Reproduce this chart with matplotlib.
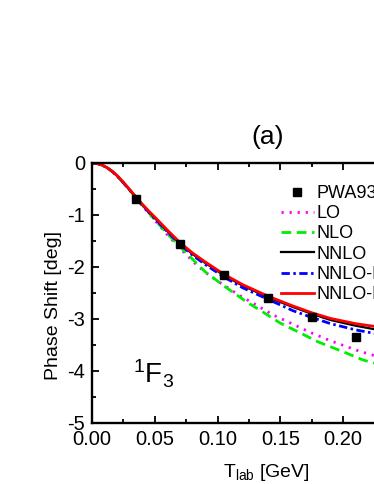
import numpy as np
import matplotlib
matplotlib.use("Agg")
import matplotlib.pyplot as plt

plt.rcParams['font.family'] = ['Liberation Sans', 'DejaVu Sans']
plt.rcParams['mathtext.fontset'] = 'custom'
plt.rcParams['mathtext.rm'] = 'Liberation Sans'
plt.rcParams['mathtext.it'] = 'Liberation Sans:italic'
plt.rcParams['axes.unicode_minus'] = False
plt.rcParams['lines.scale_dashes'] = False

# PWA93 points
pwa_x = [0.035, 0.070, 0.105, 0.140, 0.175, 0.210]
pwa_y = [-0.69, -1.55, -2.15, -2.59, -2.96, -3.34]

# curves
t_lo = [0.0, 0.004, 0.008, 0.012, 0.016, 0.02, 0.025, 0.03, 0.035, 0.04, 0.045, 0.05, 0.06, 0.07,
        0.082, 0.09, 0.10, 0.11, 0.119, 0.13, 0.144, 0.16, 0.174, 0.19, 0.213, 0.23]
lo = [0.0, -0.01, -0.04, -0.09, -0.16, -0.25, -0.38, -0.52, -0.67, -0.82, -0.96, -1.10, -1.38, -1.64,
      -1.93, -2.10, -2.27, -2.43, -2.57, -2.72, -2.92, -3.10, -3.26, -3.42, -3.62, -3.74]

t_nlo = [0.0, 0.004, 0.008, 0.012, 0.016, 0.02, 0.025, 0.03, 0.035, 0.04, 0.045, 0.05, 0.06, 0.07,
         0.078, 0.09, 0.106, 0.123, 0.135, 0.15, 0.166, 0.18, 0.20, 0.216, 0.23]
nlo = [0.0, -0.01, -0.04, -0.09, -0.16, -0.25, -0.38, -0.52, -0.67, -0.81, -0.95, -1.09, -1.36, -1.61,
       -1.80, -2.09, -2.38, -2.67, -2.85, -3.08, -3.27, -3.44, -3.63, -3.79, -3.88]

t_nn = [0.0, 0.004, 0.008, 0.012, 0.016, 0.02, 0.025, 0.03, 0.035, 0.04, 0.045, 0.05, 0.06, 0.07,
        0.08, 0.09, 0.105, 0.12, 0.14, 0.16, 0.175, 0.19, 0.21, 0.23]
nnlo = [0.0, -0.01, -0.04, -0.09, -0.16, -0.25, -0.38, -0.52, -0.66, -0.80, -0.93, -1.06, -1.31, -1.55,
        -1.75, -1.92, -2.16, -2.36, -2.58, -2.77, -2.90, -3.02, -3.13, -3.22]
nnlo_r = [0.0, -0.01, -0.04, -0.09, -0.16, -0.25, -0.38, -0.52, -0.67, -0.81, -0.94, -1.07, -1.32, -1.56,
          -1.77, -1.95, -2.19, -2.40, -2.62, -2.84, -2.97, -3.09, -3.21, -3.30]
nnlo_m = [0.0, -0.01, -0.04, -0.09, -0.16, -0.24, -0.37, -0.51, -0.65, -0.79, -0.92, -1.04, -1.29, -1.53,
          -1.73, -1.90, -2.14, -2.34, -2.56, -2.75, -2.88, -2.99, -3.09, -3.16]

fig = plt.figure(figsize=(3.74, 4.84), dpi=100)
ax = fig.add_axes([92 / 374, 61 / 484, 0.28 * 1256 / 374, 260 / 484])

ax.plot(pwa_x, pwa_y, 's', color='black', markersize=6, zorder=6, label='PWA93')
ax.plot(t_lo, lo, color='#ff00ff', lw=2.0, dashes=(1.6, 4.2), label='LO')
ax.plot(t_nlo, nlo, color='#00ee00', lw=2.0, dashes=(7, 4), label='NLO')
ax.plot(t_nn, nnlo, color='black', lw=1.6, label='NNLO')
ax.plot(t_nn, nnlo_r, color='#0000ff', lw=2.0, dashes=(6, 2.5, 1.8, 2.5), label='NNLO-RS')
ax.plot(t_nn, nnlo_m, color='#ff0000', lw=2.0, label='NNLO-MS')

ax.set_xlim(0, 0.28)
ax.set_ylim(-5, 0)
ax.set_xticks(np.arange(0, 0.26, 0.05))
ax.set_xticks(np.arange(0, 0.28, 0.025), minor=True)
ax.set_xticklabels(['%.2f' % v for v in np.arange(0, 0.26, 0.05)])
ax.set_yticks([0, -1, -2, -3, -4, -5])
ax.set_yticks(np.arange(-5, 0.01, 0.5), minor=True)
ax.set_yticklabels(['0', '-1', '-2', '-3', '-4', '-5'])
ax.tick_params(which='both', direction='in', top=True, right=False, labelsize=14.5, width=1.3)
ax.tick_params(which='major', length=5, pad=5)
ax.tick_params(which='minor', length=3)
for s in ax.spines.values():
    s.set_linewidth(1.7)

fig.text(54 / 374, 1 - 306 / 484, 'Phase Shift [deg]', rotation=90, fontsize=14,
         ha='center', va='center')
fig.text(266 / 374, 1 - 477 / 484, r'T$_{\rm lab}$ [GeV]', fontsize=14, ha='center', va='baseline')
fig.text(268 / 374, 1 - 137 / 484, '(a)', fontsize=19, ha='center', va='center')
ax.text(0.033, -4.05, r'$^{1}$F$_{3}$', fontsize=20, ha='left', va='center')

ax.legend(loc='upper left', bbox_to_anchor=(281 / 374, 1 - 185 / 484), bbox_transform=fig.transFigure,
          frameon=False, fontsize=13, handlelength=1.8, handletextpad=0.15, borderpad=0,
          labelspacing=0.18, borderaxespad=0)

fig.savefig('out.png', dpi=100)
